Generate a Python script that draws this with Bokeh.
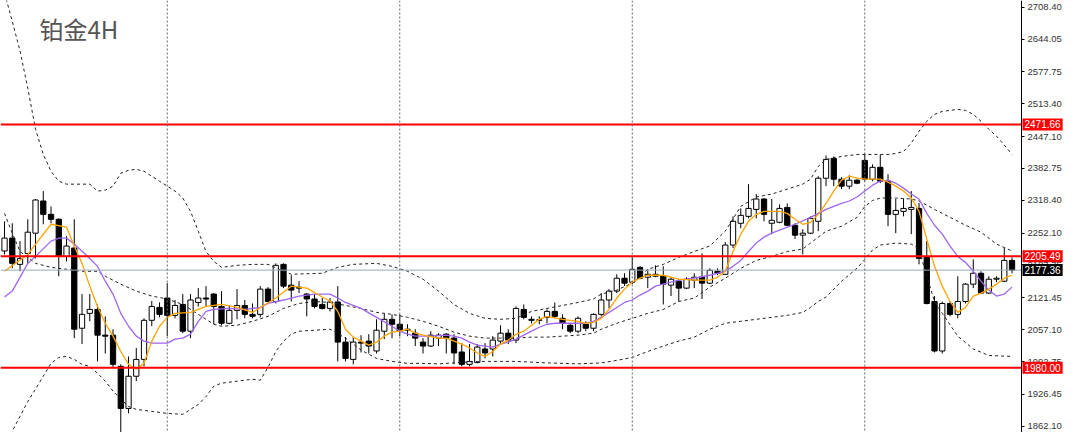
from bokeh.plotting import figure
from bokeh.models import (LinearAxis, FixedTicker, PrintfTickFormatter, Range1d,
                          Label, Span, ColumnDataSource)
from bokeh.embed import file_html
from bokeh.resources import INLINE

# ---------------- data ----------------
title_text = "铂金4H"

opens = [2216, 2242, 2189, 2211, 2252, 2317, 2290, 2280, 2205, 2222,
         2060, 2090, 2098, 2046, 2046, 1983, 1898, 1963, 1997, 2076,
         2102, 2121, 2086, 2108, 2054, 2112, 2121, 2129, 2104, 2070,
         2096, 2106, 2088, 2088, 2139, 2114, 2189, 2147, 2143, 2129,
         2119, 2108, 2100, 2113, 2032, 1997, 2032, 2034, 2014, 2054,
         2078, 2068, 2056, 2050, 2032, 2024, 2040, 2048, 2040, 2012,
         1987, 1991, 2018, 2018, 2034, 2050, 2036, 2098, 2078, 2076,
         2082, 2094, 2080, 2066, 2054, 2068, 2060, 2088, 2117, 2135,
         2161, 2153, 2183, 2163, 2165, 2165, 2147, 2155, 2141, 2157,
         2163, 2151, 2175, 2169, 2228, 2272, 2286, 2300, 2321, 2272,
         2274, 2304, 2268, 2248, 2252, 2276, 2363, 2403, 2361, 2347,
         2359, 2399, 2361, 2385, 2357, 2290, 2296, 2300, 2302, 2205,
         2114, 2014, 2110, 2088, 2114, 2149, 2171, 2131, 2159, 2155,
         2197]
highs = [2276, 2272, 2236, 2280, 2321, 2337, 2306, 2282, 2246, 2280,
         2129, 2129, 2108, 2084, 2058, 1987, 2003, 2020, 2080, 2115,
         2112, 2151, 2117, 2129, 2129, 2141, 2145, 2131, 2135, 2106,
         2139, 2117, 2110, 2145, 2143, 2191, 2191, 2167, 2155, 2131,
         2129, 2121, 2121, 2145, 2042, 2042, 2046, 2048, 2078, 2090,
         2088, 2088, 2068, 2058, 2040, 2054, 2050, 2050, 2048, 2030,
         2028, 2028, 2030, 2044, 2066, 2058, 2104, 2108, 2084, 2084,
         2098, 2112, 2088, 2070, 2084, 2074, 2090, 2131, 2139, 2169,
         2171, 2205, 2185, 2179, 2187, 2185, 2163, 2159, 2163, 2171,
         2211, 2181, 2181, 2234, 2286, 2302, 2351, 2331, 2323, 2321,
         2310, 2312, 2272, 2260, 2286, 2367, 2409, 2407, 2365, 2369,
         2361, 2413, 2391, 2411, 2371, 2321, 2321, 2337, 2313, 2236,
         2125, 2114, 2114, 2165, 2151, 2199, 2175, 2165, 2165, 2222,
         2203]
lows = [2209, 2181, 2175, 2191, 2201, 2270, 2272, 2165, 2195, 2040,
        2028, 2074, 1993, 2009, 1979, 1822, 1888, 1953, 1983, 2064,
        2082, 2044, 2080, 2050, 2040, 2104, 2104, 2068, 2066, 2068,
        2078, 2080, 2080, 2082, 2112, 2110, 2141, 2114, 2131, 2084,
        2100, 2098, 2094, 1993, 1993, 1987, 2011, 2009, 2009, 2038,
        2040, 2044, 2044, 2024, 2009, 2022, 2024, 2009, 1987, 1983,
        1983, 1989, 1999, 2003, 2028, 2028, 2030, 2078, 2070, 2068,
        2070, 2080, 2058, 2050, 2050, 2054, 2054, 2084, 2100, 2131,
        2145, 2149, 2159, 2141, 2163, 2108, 2125, 2114, 2139, 2141,
        2119, 2149, 2167, 2169, 2222, 2262, 2282, 2282, 2276, 2250,
        2272, 2266, 2240, 2209, 2250, 2256, 2347, 2347, 2341, 2341,
        2351, 2357, 2357, 2353, 2266, 2252, 2286, 2250, 2189, 2108,
        2011, 2009, 2084, 2080, 2110, 2141, 2129, 2129, 2153, 2153,
        2171]
closes = [2242, 2191, 2201, 2254, 2319, 2290, 2280, 2205, 2226, 2058,
          2088, 2098, 2046, 2044, 1987, 1898, 1963, 1997, 2076, 2104,
          2088, 2086, 2106, 2054, 2117, 2121, 2119, 2104, 2070, 2096,
          2106, 2088, 2084, 2139, 2114, 2187, 2145, 2137, 2141, 2119,
          2104, 2100, 2113, 2032, 1999, 2032, 2030, 2024, 2056, 2078,
          2068, 2054, 2058, 2040, 2024, 2046, 2046, 2040, 2010, 1987,
          1993, 2022, 2010, 2036, 2050, 2036, 2100, 2082, 2076, 2077,
          2094, 2084, 2070, 2054, 2080, 2060, 2088, 2117, 2135, 2161,
          2151, 2179, 2161, 2169, 2169, 2149, 2159, 2141, 2159, 2163,
          2151, 2177, 2171, 2228, 2276, 2288, 2302, 2321, 2290, 2278,
          2302, 2268, 2248, 2252, 2282, 2363, 2401, 2361, 2347, 2359,
          2353, 2361, 2385, 2357, 2290, 2298, 2302, 2304, 2201, 2110,
          2014, 2110, 2088, 2114, 2149, 2171, 2131, 2159, 2161, 2197,
          2177.36]

# fast moving average (orange)
orange_idx = [0, 3, 6, 8, 9, 10, 11, 12, 13, 14, 15, 16, 17, 18, 19, 20, 21, 22, 24, 26,
              28, 30, 32, 33, 35, 37, 39, 41, 42, 43, 44, 45, 46, 47, 48, 49, 50, 51, 52, 53,
              54, 56, 57, 58, 59, 60, 61, 62, 63, 64, 65, 66, 67, 68, 69, 70, 72, 74, 75, 76,
              77, 78, 79, 80, 81, 82, 83, 85, 87, 89, 91, 92, 93, 94, 95, 96, 97, 98, 100, 101,
              102, 103, 104, 105, 106, 107, 108, 109, 110, 111, 112, 113, 114, 115, 116, 117,
              118, 119, 120, 121, 122, 123, 124, 125, 126, 127, 128, 129, 130]
orange_val = [2175, 2209, 2270, 2264, 2226, 2191, 2145, 2104, 2070, 2044, 2013, 1987, 1977, 1989,
              2034, 2064, 2082, 2090, 2092, 2104, 2108, 2102, 2092, 2102, 2121, 2145, 2141, 2123,
              2115, 2094, 2058, 2042, 2034, 2026, 2032, 2044, 2052, 2054, 2058, 2050, 2046, 2040,
              2040, 2034, 2028, 2020, 2010, 2003, 2013, 2028, 2036, 2048, 2054, 2066, 2078, 2084,
              2078, 2074, 2070, 2072, 2080, 2098, 2121, 2139, 2153, 2161, 2167, 2167, 2159, 2157,
              2157, 2163, 2175, 2215, 2250, 2276, 2290, 2296, 2296, 2292, 2280, 2270, 2274, 2290,
              2312, 2337, 2359, 2367, 2363, 2361, 2361, 2361, 2355, 2347, 2337, 2323, 2296, 2240,
              2185, 2145, 2114, 2092, 2102, 2125, 2131, 2139, 2149, 2161, 2167]

# slower moving average (purple)
purple_idx = [0, 1, 3, 4, 6, 7, 8, 9, 11, 12, 13, 14, 15, 16, 17, 18, 19, 21, 22, 23,
              24, 25, 26, 27, 29, 31, 33, 34, 36, 38, 40, 42, 43, 44, 46, 48, 50, 51, 52, 53,
              55, 57, 58, 59, 60, 61, 62, 63, 64, 65, 66, 67, 68, 69, 70, 71, 73, 75, 76, 77,
              78, 79, 80, 81, 82, 83, 84, 85, 86, 87, 89, 91, 92, 93, 94, 95, 96, 97, 98, 99,
              100, 102, 104, 105, 106, 107, 108, 109, 110, 111, 112, 113, 114, 115, 116, 117,
              118, 119, 120, 121, 122, 123, 124, 125, 126, 127, 128, 129, 130]
purple_val = [2123, 2135, 2191, 2205, 2236, 2242, 2242, 2230, 2201, 2185, 2155, 2129, 2090, 2064,
              2044, 2034, 2030, 2030, 2038, 2040, 2048, 2074, 2094, 2098, 2100, 2098, 2102, 2110,
              2117, 2125, 2129, 2129, 2121, 2112, 2100, 2082, 2064, 2054, 2048, 2044, 2044, 2046,
              2044, 2040, 2032, 2026, 2024, 2022, 2028, 2032, 2038, 2046, 2054, 2062, 2068, 2070,
              2070, 2070, 2074, 2082, 2092, 2102, 2112, 2117, 2127, 2135, 2145, 2149, 2153, 2157,
              2161, 2167, 2171, 2175, 2185, 2197, 2215, 2232, 2244, 2252, 2258, 2270, 2284, 2292,
              2300, 2306, 2312, 2317, 2325, 2337, 2349, 2357, 2359, 2353, 2343, 2331, 2321, 2292,
              2268, 2250, 2226, 2205, 2193, 2175, 2155, 2137, 2125, 2129, 2143]

# Bollinger bands (dashed)
upper_idx = [0, 1, 2, 3, 4, 5, 6, 7, 8, 10, 11, 12, 13, 14, 15, 16, 17, 18, 19, 20,
             21, 22, 23, 24, 25, 26, 27, 28, 30, 32, 34, 36, 37, 41, 43, 45, 48, 50, 52, 54,
             56, 58, 60, 62, 64, 66, 68, 70, 72, 74, 76, 77, 79, 81, 83, 85, 87, 89, 91, 93,
             95, 97, 99, 101, 103, 104, 105, 106, 108, 110, 112, 114, 115, 116, 117, 118, 119,
             120, 121, 123, 124, 125, 126, 127, 128, 129, 130]
upper_val = [2737, 2680, 2620, 2545, 2462, 2411, 2377, 2357, 2351, 2351, 2351, 2337, 2339, 2347,
             2373, 2379, 2381, 2377, 2367, 2357, 2347, 2337, 2323, 2296, 2256, 2215, 2195, 2183,
             2187, 2189, 2189, 2175, 2169, 2171, 2183, 2189, 2191, 2185, 2175, 2159, 2135, 2108,
             2090, 2080, 2078, 2080, 2094, 2100, 2106, 2112, 2119, 2129, 2137, 2151, 2179, 2189,
             2203, 2215, 2226, 2256, 2306, 2325, 2331, 2341, 2351, 2361, 2387, 2401, 2407, 2411,
             2411, 2411, 2413, 2417, 2434, 2458, 2478, 2492, 2498, 2502, 2500, 2492, 2478, 2462,
             2448, 2430, 2411]
middle_idx = [0, 1, 2, 4, 6, 8, 10, 12, 13, 15, 17, 19, 21, 23, 25, 27, 28, 30, 32, 34,
              36, 38, 40, 42, 44, 46, 48, 50, 52, 54, 56, 58, 60, 62, 64, 66, 68, 70, 72, 74,
              76, 77, 79, 81, 83, 85, 87, 89, 91, 93, 95, 97, 99, 101, 103, 104, 105, 106, 108,
              110, 111, 112, 113, 115, 117, 118, 120, 122, 124, 126, 128, 130]
middle_val = [2292, 2252, 2215, 2191, 2183, 2179, 2175, 2175, 2165, 2149, 2135, 2125, 2119, 2108,
              2088, 2068, 2064, 2066, 2074, 2084, 2100, 2110, 2114, 2112, 2106, 2100, 2092, 2088,
              2082, 2074, 2064, 2052, 2044, 2040, 2040, 2040, 2042, 2042, 2044, 2046, 2050, 2058,
              2070, 2080, 2090, 2098, 2114, 2121, 2143, 2161, 2181, 2197, 2205, 2215, 2220, 2232,
              2244, 2256, 2266, 2284, 2306, 2318, 2323, 2323, 2321, 2317, 2300, 2284, 2268, 2254,
              2230, 2216]
lower_idx = [0, 1, 2, 3, 4, 5, 6, 7, 8, 9, 10, 11, 12, 13, 14, 15, 16, 17, 19, 21,
             23, 24, 25, 26, 27, 28, 30, 32, 33, 34, 35, 36, 37, 38, 40, 42, 44, 46, 48, 50,
             52, 54, 56, 58, 60, 62, 64, 66, 70, 74, 77, 79, 81, 83, 85, 87, 89, 91, 93, 95,
             97, 99, 101, 103, 104, 105, 106, 107, 108, 110, 111, 112, 113, 115, 117, 118, 119,
             120, 121, 123, 125, 127, 130]
lower_val = [1811, 1852, 1882, 1912, 1937, 1963, 1989, 2001, 2003, 1997, 1987, 1983, 1969, 1953,
             1933, 1917, 1902, 1896, 1892, 1888, 1886, 1896, 1906, 1922, 1943, 1949, 1953, 1957,
             1955, 1981, 2013, 2034, 2048, 2054, 2056, 2058, 2040, 2016, 1999, 1993, 1989, 1989,
             1988, 1990, 1992, 1993, 1993, 1993, 1990, 1988, 1990, 1995, 2001, 2013, 2024, 2034,
             2042, 2058, 2070, 2074, 2078, 2082, 2086, 2092, 2102, 2114, 2123, 2139, 2155, 2181,
             2199, 2218, 2228, 2232, 2230, 2220, 2165, 2114, 2090, 2044, 2018, 2005, 2003]

week_starts = [21, 51, 81, 111]
resistance_levels = [2471.66, 2205.49, 1980.00]
current_price = 2177.36
axis_ticks = [2708.40, 2644.05, 2577.75, 2513.40, 2447.10, 2382.75, 2318.40, 2252.10,
              2187.75, 2121.45, 2057.10, 1992.75, 1926.45, 1862.10]

# ---------------- layout constants ----------------
W, H = 1064, 432
px_per_bar = 7.75
x_start = -0.52
x_end = x_start + W / px_per_bar
axis_x = x_start + 1021 / px_per_bar      # price axis drawn inside the frame
px_per_price = 1 / 2.02
y_hi = 2722
y_lo = y_hi - H / px_per_price

n = len(closes)
idx = list(range(n))

p = figure(width=W, height=H, output_backend="svg", toolbar_location=None,
           x_range=Range1d(x_start, x_end), y_range=Range1d(y_lo, y_hi),
           x_axis_location=None, y_axis_location=None,
           min_border_left=0, min_border_right=0, min_border_top=0, min_border_bottom=0)
p.background_fill_color = "white"
p.border_fill_color = "white"
p.outline_line_color = None
p.xgrid.visible = False
p.ygrid.visible = False

ax = LinearAxis(ticker=FixedTicker(ticks=axis_ticks),
                formatter=PrintfTickFormatter(format="%.2f"),
                fixed_location=axis_x)
ax.axis_line_color = "black"
ax.axis_line_width = 1
ax.major_tick_in = 0
ax.major_tick_out = 3
ax.major_tick_line_color = "black"
ax.minor_tick_line_color = None
ax.major_label_standoff = 3
ax.major_label_text_font = "Liberation Sans"
ax.major_label_text_font_size = "9.5px"
ax.major_label_text_color = "#333333"
p.add_layout(ax, "right")

# week separators
for w in week_starts:
    p.add_layout(Span(location=w, dimension="height", line_color="#666666",
                      line_width=1, line_dash="2 2"))

# candles
src = ColumnDataSource(dict(
    x=idx, o=opens, h=highs, l=lows, c=closes,
    top=[max(o, c) for o, c in zip(opens, closes)],
    bot=[min(o, c) for o, c in zip(opens, closes)],
    fill=["white" if c >= o else "black" for o, c in zip(opens, closes)],
))
p.segment(x0="x", y0="l", x1="x", y1="h", source=src, line_color="black", line_width=1)
p.vbar(x="x", width=0.68, top="top", bottom="bot", fill_color="fill",
       line_color="black", line_width=1, source=src)

# bands
for bi, bv in ((upper_idx, upper_val), (middle_idx, middle_val), (lower_idx, lower_val)):
    p.line(bi, bv, line_color="#222222", line_width=1, line_dash="3 3")

# moving averages
p.line(purple_idx, purple_val, line_color="#A066EE", line_width=1.3)
p.line(orange_idx, orange_val, line_color="#FFA500", line_width=1.3)

# horizontal levels (stop at the price axis)
p.segment(x0=[x_start], x1=[axis_x], y0=[current_price], y1=[current_price],
          line_color="#98A8BC", line_width=1)
p.segment(x0=[x_start] * len(resistance_levels), x1=[axis_x] * len(resistance_levels),
          y0=resistance_levels, y1=resistance_levels, line_color="#FF0000", line_width=2)

# price boxes on the axis
for lv in resistance_levels:
    p.add_layout(Label(x=axis_x, y=lv, x_offset=1, text="%.2f" % lv,
                       text_font="Liberation Sans", text_font_size="10px",
                       text_color="white", text_align="left", text_baseline="middle",
                       background_fill_color="#FF0000", padding=2))
p.add_layout(Label(x=axis_x, y=current_price, x_offset=1, text="%.2f" % current_price,
                   text_font="Liberation Sans", text_font_size="10px",
                   text_color="white", text_align="left", text_baseline="middle",
                   background_fill_color="black", padding=2))

# title
p.add_layout(Label(x=x_start + 39 / px_per_bar, y=y_hi - 27.5 / px_per_price, text=title_text,
                   text_font="Noto Sans CJK SC", text_font_size="24px", text_color="#555555",
                   text_align="left", text_baseline="middle"))

open("out.html", "w").write(file_html(p, INLINE))
